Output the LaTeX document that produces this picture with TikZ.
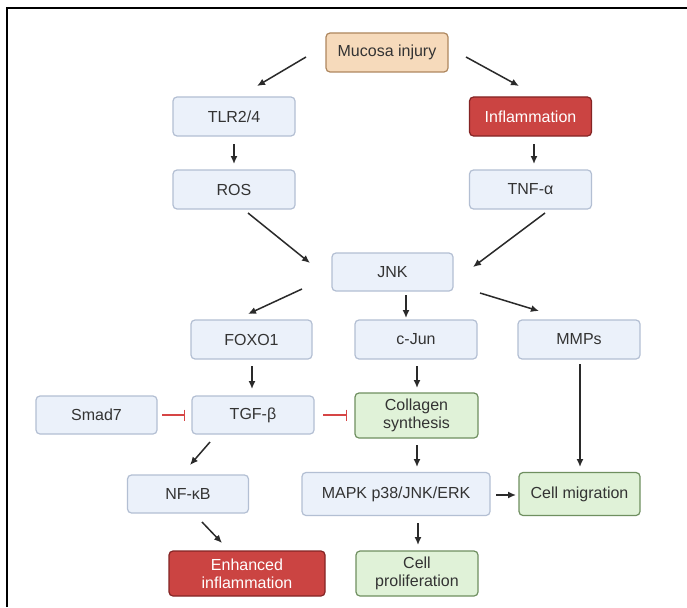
\documentclass[tikz,border=0pt]{standalone}
\usepackage{fontspec}
\setmainfont{Liberation Sans}
\usetikzlibrary{arrows.meta}
\definecolor{txt}{HTML}{333333}
\definecolor{bluefill}{HTML}{EBF1FA}
\definecolor{blueline}{HTML}{B3BFD3}
\definecolor{greenfill}{HTML}{E0F2D8}
\definecolor{greenline}{HTML}{6F8F60}
\definecolor{redfill}{HTML}{CB4442}
\definecolor{redline}{HTML}{842424}
\definecolor{tanfill}{HTML}{F6DABB}
\definecolor{tanline}{HTML}{AE875E}
\definecolor{arrowc}{HTML}{2A2A2A}
\definecolor{inhib}{HTML}{D64545}
\tikzset{
  box/.style={rounded corners=4pt, line width=1.2pt, align=center, inner sep=0pt,
    font=\fontsize{16}{18}\selectfont, text=txt, minimum width=122pt, minimum height=39pt},
  bluebox/.style={box, fill=bluefill, draw=blueline},
  greenbox/.style={box, fill=greenfill, draw=greenline},
  redbox/.style={box, fill=redfill, draw=redline, text=white},
  tanbox/.style={box, fill=tanfill, draw=tanline},
  arr/.style={draw=arrowc, line width=1.5pt, -{Latex[length=8pt,width=7pt]}},
  inh/.style={draw=inhib, line width=1.5pt, -{Bar[width=11pt,line width=1.5pt]}}
}
\begin{document}
\begin{tikzpicture}[x=1pt,y=-1pt]
\useasboundingbox (0,0) rectangle (687,607);
\fill[white] (0,0) rectangle (687,607);
\draw[line width=2pt, black] (6.5,607) -- (6.5,8.5) -- (687,8.5);

\node[tanbox]   (muc)  at (387,52.5)   {Mucosa injury};
\node[bluebox]  (tlr)  at (234,116.5)  {TLR2/4};
\node[redbox]   (infl) at (530.5,116.5){Inflammation};
\node[bluebox]  (ros)  at (234,189.5)  {ROS};
\node[bluebox]  (tnf)  at (530.5,189.5){TNF-α};
\node[bluebox, minimum width=121pt, minimum height=38pt] (jnk) at (392.5,272) {JNK};
\node[bluebox, minimum width=121pt]  (foxo) at (251.5,339.5) {FOXO1};
\node[bluebox]  (cjun) at (416,339.5)  {c-Jun};
\node[bluebox]  (mmps) at (579,339.5)  {MMPs};
\node[bluebox, minimum width=121pt, minimum height=38pt] (smad) at (96.5,415) {Smad7};
\node[bluebox, minimum height=38pt] (tgf) at (253,415) {TGF-β};
\node[greenbox, minimum width=123pt, minimum height=45pt] (coll) at (416.5,415.5) {Collagen\\synthesis};
\node[bluebox, minimum width=121pt, minimum height=38pt] (nfkb) at (188,494) {NF-κB};
\node[bluebox, minimum width=188pt, minimum height=43pt] (mapk) at (396,494) {MAPK p38/JNK/ERK};
\node[greenbox, minimum width=121pt, minimum height=43pt] (mig) at (579.5,494) {Cell migration};
\node[redbox, minimum width=156pt, minimum height=45pt] (enh) at (247,573.5) {Enhanced\\inflammation};
\node[greenbox, minimum height=45pt] (prol) at (417,573.5) {Cell\\proliferation};

\draw[arr] ([shift={(-81,4.5)}]muc.center) -- ([shift={(23,-30.5)}]tlr.center);
\draw[arr] ([shift={(79,4.5)}]muc.center) -- ([shift={(-11.5,-30.5)}]infl.center);
\draw[arr] ([shift={(0,27.5)}]tlr.center) -- ([shift={(0,-25.5)}]ros.center);
\draw[arr] ([shift={(3.5,27.5)}]infl.center) -- ([shift={(3.5,-25.5)}]tnf.center);
\draw[arr] ([shift={(14,23.5)}]ros.center) -- ([shift={(-82.5,-9)}]jnk.center);
\draw[arr] ([shift={(14.5,23.5)}]tnf.center) -- ([shift={(80.5,-5)}]jnk.center);
\draw[arr] ([shift={(-90.5,17)}]jnk.center) -- ([shift={(-3.5,-25.5)}]foxo.center);
\draw[arr] ([shift={(13.5,23)}]jnk.center) -- ([shift={(-10,-21.5)}]cjun.center);
\draw[arr] ([shift={(87.5,21)}]jnk.center) -- ([shift={(-40,-28.5)}]mmps.center);
\draw[arr] ([shift={(0.5,26.5)}]foxo.center) -- ([shift={(-1,-26)}]tgf.center);
\draw[arr] ([shift={(1,26.5)}]cjun.center) -- ([shift={(0.5,-27.5)}]coll.center);
\draw[arr] ([shift={(1,24.5)}]mmps.center) -- ([shift={(0.5,-27)}]mig.center);
\draw[inh] ([shift={(65.5,0)}]smad.center) -- ([shift={(-68,0)}]tgf.center);
\draw[inh] ([shift={(70,0)}]tgf.center) -- ([shift={(-69.5,-0.5)}]coll.center);
\draw[arr] ([shift={(-43,27)}]tgf.center) -- ([shift={(2,-29)}]nfkb.center);
\draw[arr] ([shift={(0.5,29.5)}]coll.center) -- ([shift={(21,-27)}]mapk.center);
\draw[arr] ([shift={(100,1)}]mapk.center) -- ([shift={(-63.5,1)}]mig.center);
\draw[arr] ([shift={(14,28)}]nfkb.center) -- ([shift={(-25,-30.5)}]enh.center);
\draw[arr] ([shift={(22,29)}]mapk.center) -- ([shift={(1,-28.5)}]prol.center);
\end{tikzpicture}
\end{document}
